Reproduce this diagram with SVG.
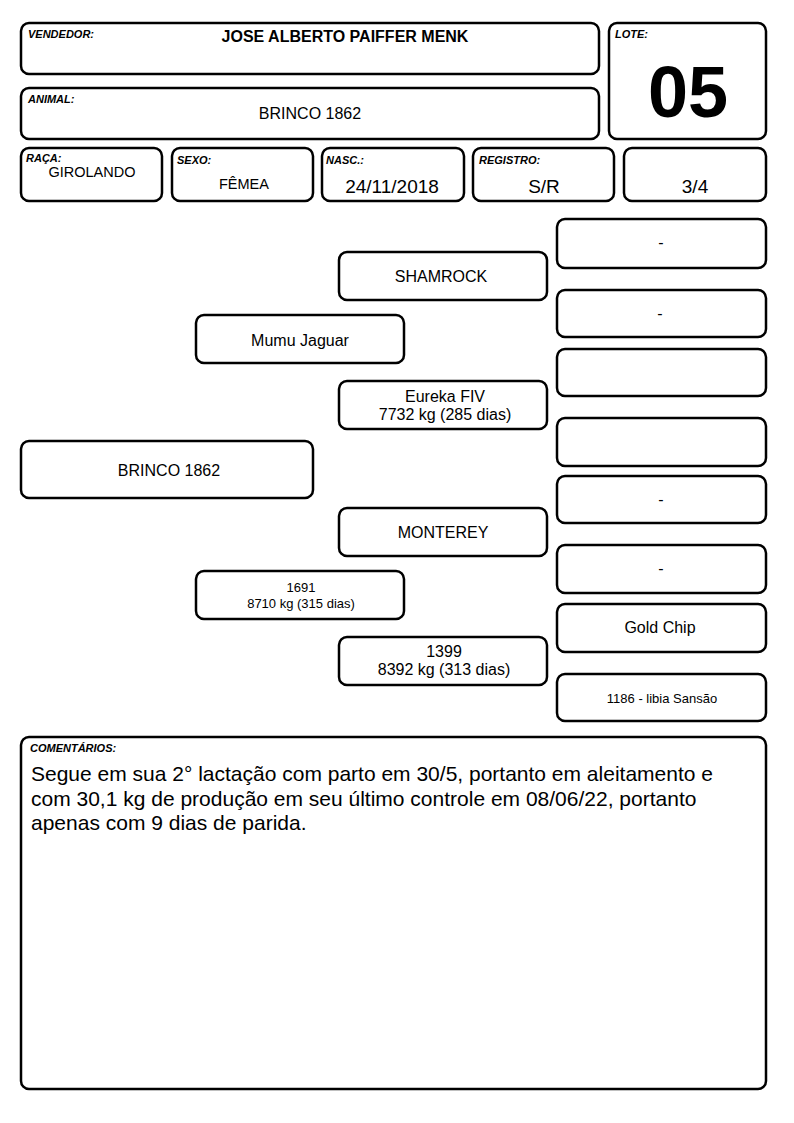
<svg xmlns="http://www.w3.org/2000/svg" width="794" height="1123" viewBox="0 0 794 1123">
<style>
.b{fill:#fff;stroke:#000;stroke-width:2.5}
.lb{font-family:"Liberation Sans",Arial,sans-serif;font-weight:bold;font-style:italic;font-size:11px;fill:#000}
.t{font-family:"Liberation Sans",Arial,sans-serif;font-size:16px;fill:#000;text-anchor:middle}
.m{font-family:"Liberation Sans",Arial,sans-serif;font-size:14.5px;fill:#000;text-anchor:middle}
.v{font-family:"Liberation Sans",Arial,sans-serif;font-size:19px;fill:#000;text-anchor:middle}
.s{font-family:"Liberation Sans",Arial,sans-serif;font-size:13px;fill:#000;text-anchor:middle}
.c{font-family:"Liberation Sans",Arial,sans-serif;font-size:21px;fill:#000}
</style>
<rect width="794" height="1123" fill="#fff"/>
<g id="vendedor"><rect class="b" x="21" y="23" width="578" height="51" rx="8"/><text class="lb" x="28" y="38">VENDEDOR:</text><text class="t" x="345" y="42" font-weight="bold">JOSE ALBERTO PAIFFER MENK</text></g>
<g id="animal"><rect class="b" x="21" y="88" width="578" height="51" rx="8"/><text class="lb" x="28" y="103">ANIMAL:</text><text class="t" x="310" y="119" font-size="15.3">BRINCO 1862</text></g>
<g id="lote"><rect class="b" x="609" y="23" width="157" height="116" rx="8"/><text class="lb" x="615" y="38">LOTE:</text><text x="688" y="117" font-family="Liberation Sans,Arial,sans-serif" font-weight="bold" font-size="72" text-anchor="middle">05</text></g>
<g id="raca"><rect class="b" x="21" y="148" width="141" height="53" rx="8"/><text class="lb" x="26" y="162">RAÇA:</text><text class="m" x="92" y="177">GIROLANDO</text></g>
<g id="sexo"><rect class="b" x="172" y="148" width="141" height="53" rx="8"/><text class="lb" x="177" y="164">SEXO:</text><text class="m" x="244" y="189">FÊMEA</text></g>
<g id="nasc"><rect class="b" x="322" y="148" width="142" height="53" rx="8"/><text class="lb" x="326" y="164">NASC.:</text><text class="v" x="392" y="193">24/11/2018</text></g>
<g id="registro"><rect class="b" x="473" y="148" width="141" height="53" rx="8"/><text class="lb" x="479" y="164">REGISTRO:</text><text class="v" x="544" y="193">S/R</text></g>
<g id="grau"><rect class="b" x="624" y="148" width="142" height="53" rx="8"/><text class="v" x="695" y="193">3/4</text></g>

<g id="p-animal"><rect class="b" x="21" y="441" width="292" height="57" rx="8"/><text class="t" x="169" y="476">BRINCO 1862</text></g>
<g id="pai"><rect class="b" x="196" y="315" width="208" height="48" rx="8"/><text class="t" x="300" y="346">Mumu Jaguar</text></g>
<g id="mae"><rect class="b" x="196" y="571" width="208" height="48" rx="8"/><text class="s" x="301" y="592">1691</text><text class="s" x="301" y="608">8710 kg (315 dias)</text></g>
<g id="avo-pp"><rect class="b" x="339" y="252" width="208" height="48" rx="8"/><text class="t" x="441" y="282">SHAMROCK</text></g>
<g id="avo-pm"><rect class="b" x="339" y="381" width="208" height="48" rx="8"/><text class="t" x="445" y="402">Eureka FIV</text><text class="t" x="445" y="420">7732 kg (285 dias)</text></g>
<g id="avo-mp"><rect class="b" x="339" y="508" width="208" height="48" rx="8"/><text class="t" x="443" y="538">MONTEREY</text></g>
<g id="avo-mm"><rect class="b" x="339" y="637" width="208" height="48" rx="8"/><text class="t" x="444" y="657">1399</text><text class="t" x="444" y="675">8392 kg (313 dias)</text></g>
<g id="b1"><rect class="b" x="557" y="219" width="209" height="49" rx="8"/><text class="t" x="661" y="248">-</text></g>
<g id="b2"><rect class="b" x="557" y="290" width="209" height="47" rx="8"/><text class="t" x="660" y="319">-</text></g>
<g id="b3"><rect class="b" x="557" y="349" width="209" height="47" rx="8"/></g>
<g id="b4"><rect class="b" x="557" y="418" width="209" height="48" rx="8"/></g>
<g id="b5"><rect class="b" x="557" y="476" width="209" height="47" rx="8"/><text class="t" x="661" y="505">-</text></g>
<g id="b6"><rect class="b" x="557" y="545" width="209" height="48" rx="8"/><text class="t" x="661" y="574">-</text></g>
<g id="b7"><rect class="b" x="557" y="604" width="209" height="48" rx="8"/><text class="t" x="660" y="633">Gold Chip</text></g>
<g id="b8"><rect class="b" x="557" y="674" width="209" height="47" rx="8"/><text class="s" x="662" y="703">1186 - libia Sansão</text></g>

<g id="comentarios"><rect class="b" x="21" y="737" width="745" height="352" rx="8"/><text class="lb" x="30" y="752">COMENTÁRIOS:</text>
<text class="c" x="31" y="781">Segue em sua 2° lactação com parto em 30/5, portanto em aleitamento e</text>
<text class="c" x="31" y="805.5">com 30,1 kg de produção em seu último controle em 08/06/22, portanto</text>
<text class="c" x="31" y="830">apenas com 9 dias de parida.</text></g>
</svg>
